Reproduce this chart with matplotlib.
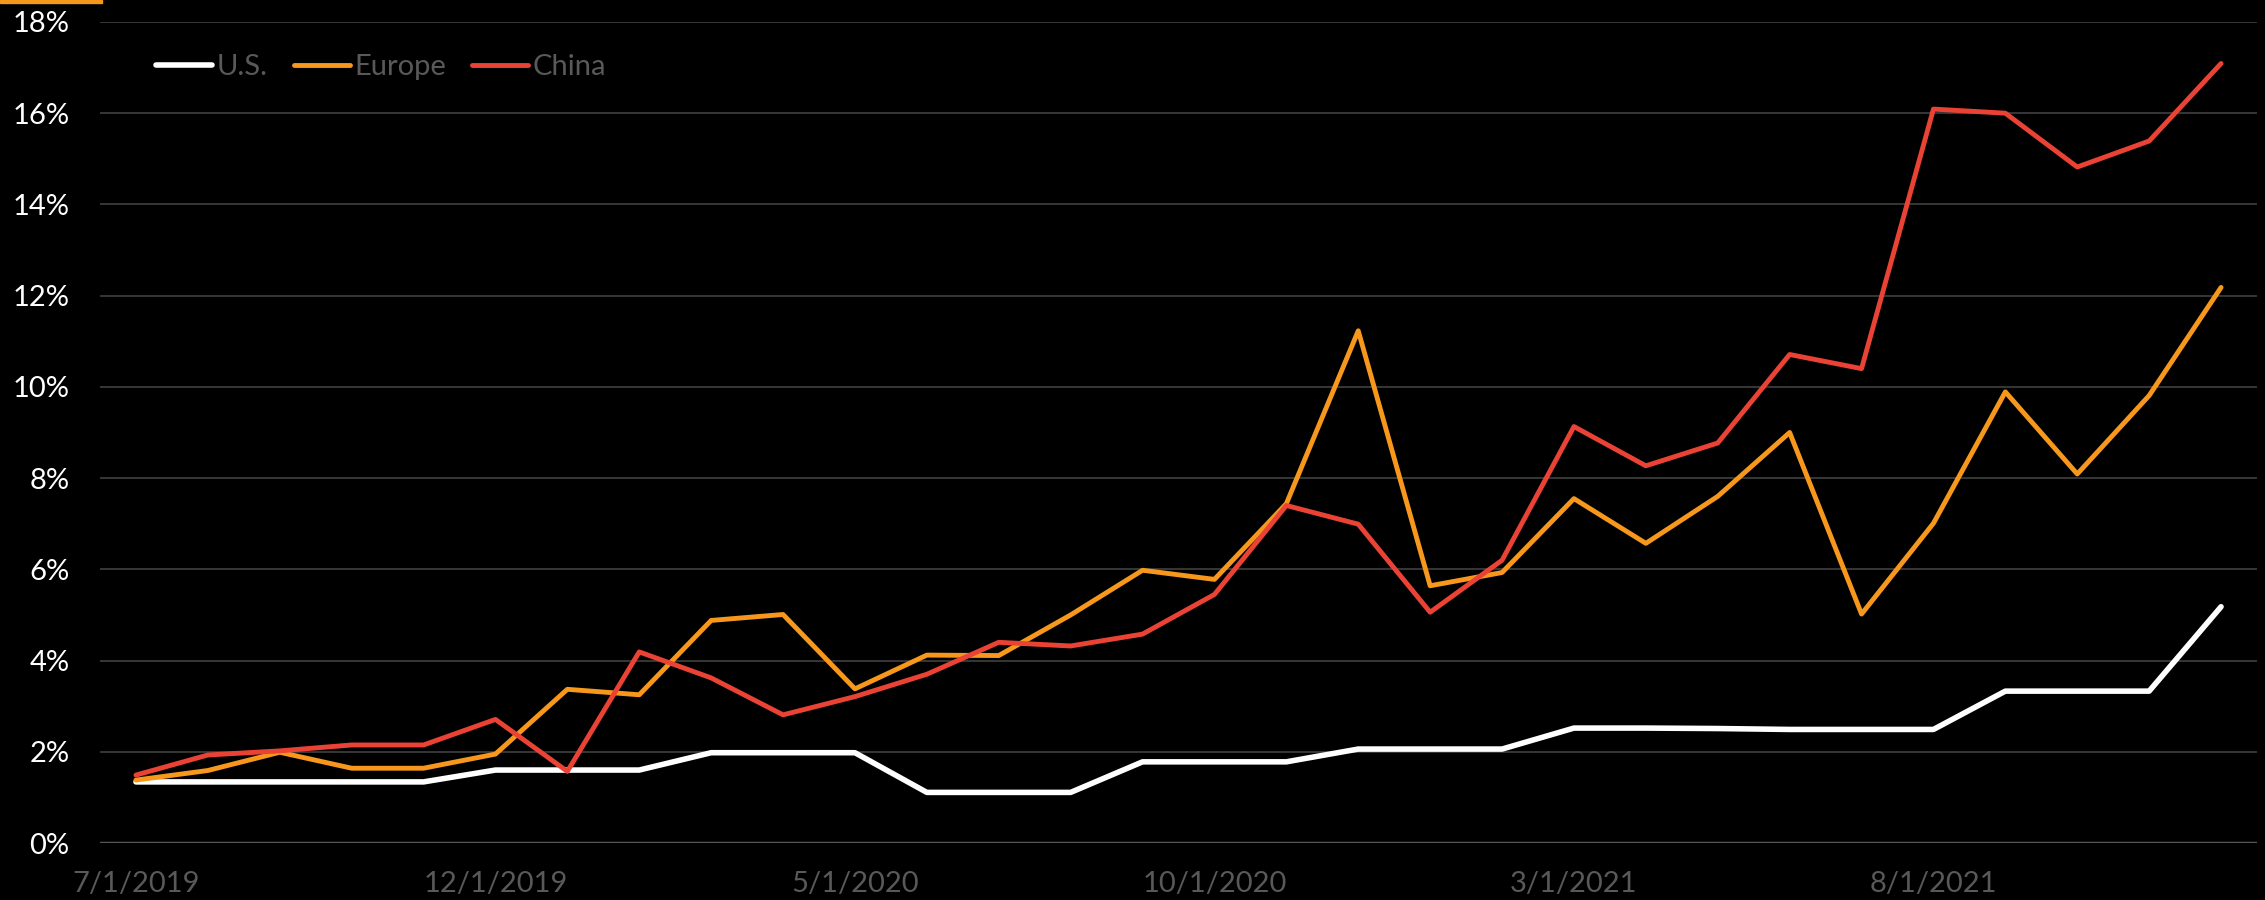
import matplotlib.pyplot as plt
import matplotlib.patches as mpatches
import numpy as np
import pandas as pd

plt.rcParams['font.family'] = ['Lato', 'DejaVu Sans']

# Monthly data, 7/2019 - 12/2021 (percent)
months = pd.date_range('2019-07-01', periods=30, freq='MS')
us = [1.34, 1.34, 1.34, 1.34, 1.34, 1.60, 1.60, 1.60, 1.98, 1.98,
      1.98, 1.11, 1.11, 1.11, 1.78, 1.78, 1.78, 2.06, 2.06, 2.06,
      2.52, 2.52, 2.51, 2.49, 2.49, 2.49, 3.33, 3.33, 3.33, 5.18]
europe = [1.38, 1.59, 1.99, 1.64, 1.64, 1.95, 3.37, 3.25, 4.88, 5.01,
          3.38, 4.12, 4.11, 5.00, 5.98, 5.78, 7.44, 11.23, 5.64, 5.93,
          7.55, 6.57, 7.60, 9.00, 5.02, 7.01, 9.89, 8.09, 9.81, 12.18]
china = [1.49, 1.93, 2.02, 2.15, 2.15, 2.71, 1.57, 4.19, 3.62, 2.81,
         3.21, 3.70, 4.40, 4.32, 4.58, 5.45, 7.40, 6.99, 5.06, 6.20,
         9.13, 8.27, 8.77, 10.71, 10.40, 16.09, 16.00, 14.82, 15.39, 17.09]
series_labels = ['U.S.', 'Europe', 'China']
colors = ['#FFFFFF', '#F7981D', '#EA4335']

x = np.arange(len(months))
tick_idx = np.arange(0, len(months), 5)
tick_labels = [f'{d.month}/{d.day}/{d.year}' for d in months[tick_idx]]

fig = plt.figure(figsize=(22.65, 9), dpi=100, facecolor='black')
ax = fig.add_axes([0.04415, 0.0633, 0.99647 - 0.04415, 0.9756 - 0.0633])
ax.set_facecolor('black')

for vals, lab, c, lw in zip([us, europe, china], series_labels, colors, [4.0, 3.5, 3.5]):
    ax.plot(x, vals, color=c, lw=lw, label=lab,
            solid_capstyle='round', solid_joinstyle='round', zorder=3)

ax.set_xlim(-0.5, len(months) - 0.5)
ax.set_ylim(0, 18)
ax.set_yticks(np.arange(0, 19, 2))
ax.set_yticklabels([f'{v}%' for v in range(0, 19, 2)])
ax.set_xticks(tick_idx)
ax.set_xticklabels(tick_labels)

ax.grid(axis='y', color='#404040', lw=1.2, zorder=0)
ax.axhline(0, color='#BFBFBF', lw=1.6, zorder=1)
for s in ax.spines.values():
    s.set_visible(False)
ax.tick_params(axis='y', length=0, pad=22, labelsize=21, labelcolor='white')
ax.tick_params(axis='x', length=0, pad=20, labelsize=21, labelcolor='#595959')

leg = ax.legend(loc='center left', bbox_to_anchor=(0.026, 0.945), ncol=3,
                frameon=False, handlelength=1.93, handletextpad=0.14,
                columnspacing=0.9, borderpad=0, borderaxespad=0, fontsize=21)
for t in leg.get_texts():
    t.set_color('#595959')

# small orange accent bar at the top-left corner
fig.patches.append(mpatches.Rectangle((0, 1 - 3.3 / 900), 102 / 2265, 3.3 / 900,
                                      transform=fig.transFigure,
                                      color='#F7981D', zorder=5))

fig.savefig('out.png', dpi=100, facecolor='black')
